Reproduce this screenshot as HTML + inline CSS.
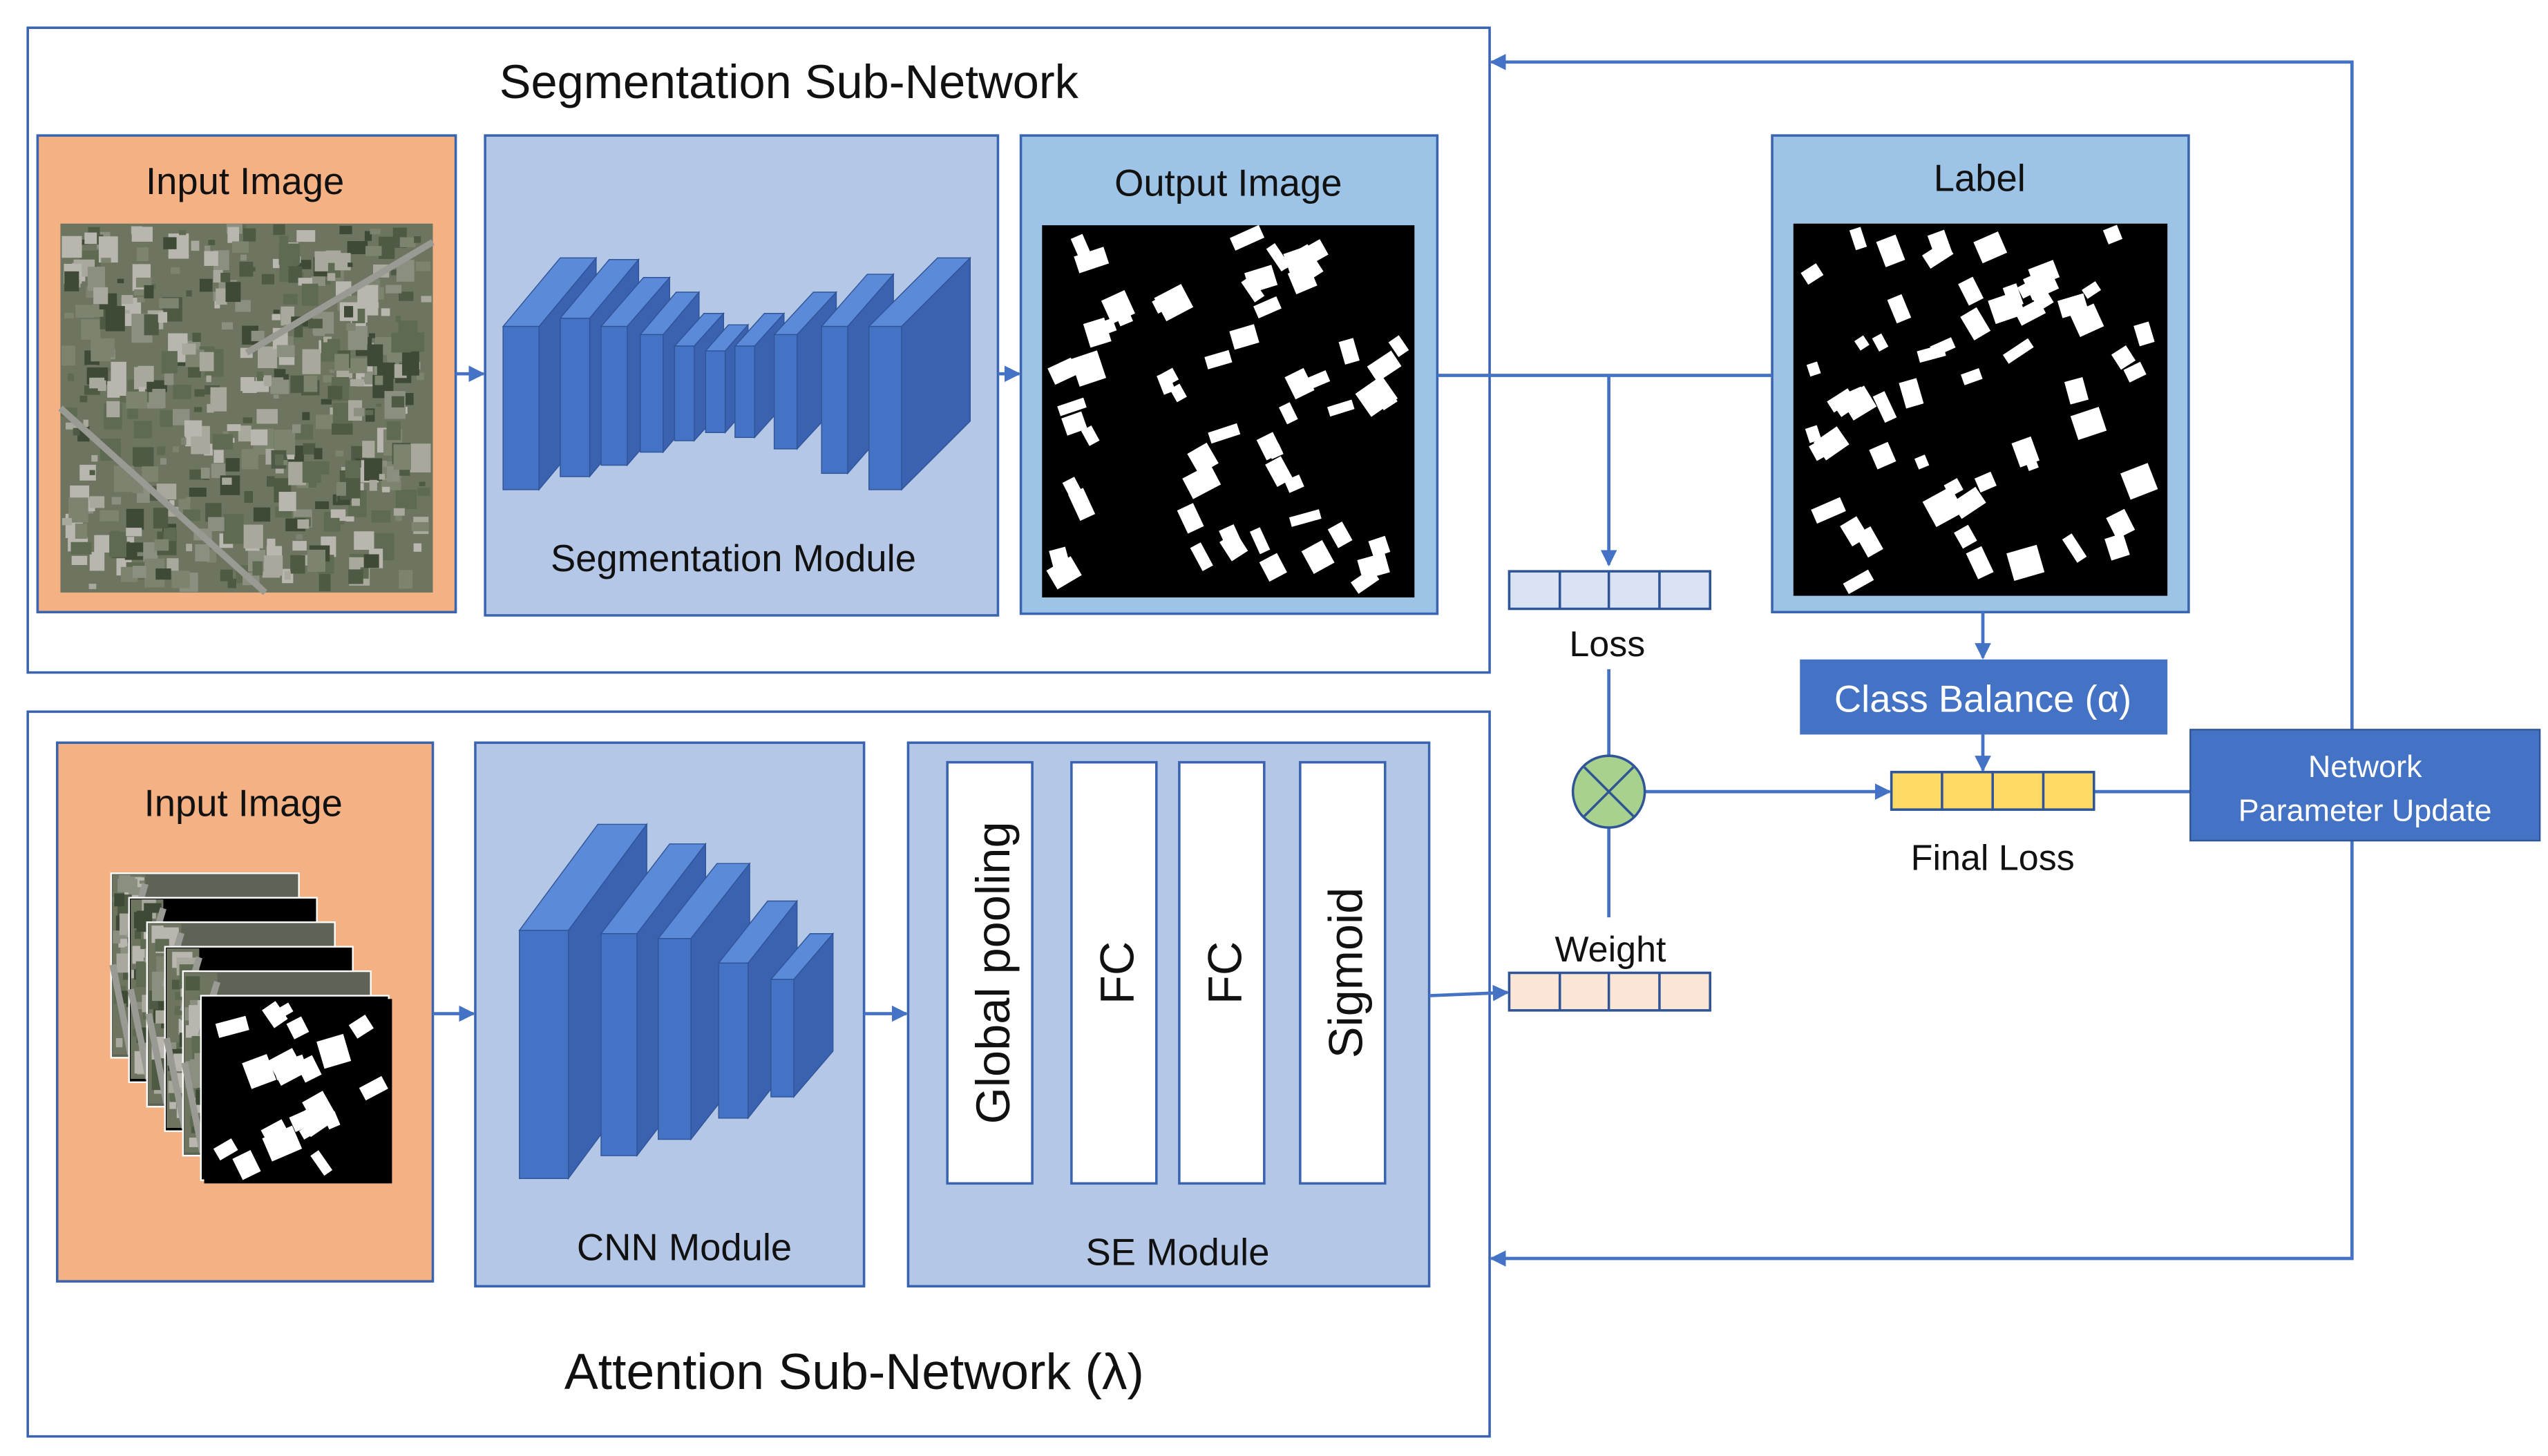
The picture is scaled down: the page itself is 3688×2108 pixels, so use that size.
<!DOCTYPE html>
<html><head><meta charset="utf-8"><style>
html,body{margin:0;padding:0;background:#fff;width:3688px;height:2108px;overflow:hidden}
svg{display:block}
text{font-family:"Liberation Sans",sans-serif;fill:#111}
</style></head><body>
<svg id="s" width="3688" height="2108" viewBox="0 0 1560 892" preserveAspectRatio="none" xmlns="http://www.w3.org/2000/svg">
<defs>
<marker id="a" viewBox="0 0 10 10" refX="9" refY="5" markerWidth="5" markerHeight="5" orient="auto"><path d="M0,0L10,5L0,10z" fill="#4472c4"/></marker>
</defs>
<rect x="0" y="0" width="1560" height="892" fill="#fff"/>
<!-- outer boxes -->
<rect x="17" y="17" width="895" height="395" fill="#fff" stroke="#3a64b0" stroke-width="1.5"/>
<rect x="17" y="436" width="895" height="444" fill="#fff" stroke="#3a64b0" stroke-width="1.5"/>
<text x="483" y="60" font-size="29" text-anchor="middle">Segmentation Sub-Network</text>
<text x="523" y="851" font-size="31" text-anchor="middle">Attention Sub-Network (λ)</text>

<!-- top row boxes -->
<rect x="23" y="83" width="256" height="292" fill="#f4b183" stroke="#3a64b0" stroke-width="1.5"/>
<text x="150" y="119" font-size="23" text-anchor="middle">Input Image</text>
<g id="aer1"></g>
<rect x="297" y="83" width="314" height="294" fill="#b4c7e7" stroke="#3a64b0" stroke-width="1.5"/>
<text x="449" y="350" font-size="23" text-anchor="middle">Segmentation Module</text>
<g id="segblk"></g>
<rect x="625" y="83" width="255" height="293" fill="#9dc3e6" stroke="#3a64b0" stroke-width="1.5"/>
<text x="752" y="120" font-size="23" text-anchor="middle">Output Image</text>
<rect x="638" y="138" width="228" height="228" fill="#000"/>
<g id="mask1"></g>
<rect x="1085" y="83" width="255" height="292" fill="#9dc3e6" stroke="#3a64b0" stroke-width="1.5"/>
<text x="1212" y="117" font-size="23" text-anchor="middle">Label</text>
<rect x="1098" y="137" width="229" height="228" fill="#000"/>
<g id="mask2"></g>

<!-- bottom row boxes -->
<rect x="35" y="455" width="230" height="330" fill="#f4b183" stroke="#3a64b0" stroke-width="1.5"/>
<text x="149" y="500" font-size="23" text-anchor="middle">Input Image</text>
<g id="stack"></g>
<rect x="291" y="455" width="238" height="333" fill="#b4c7e7" stroke="#3a64b0" stroke-width="1.5"/>
<text x="419" y="772" font-size="23" text-anchor="middle">CNN Module</text>
<g id="cnnblk"></g>
<rect x="556" y="455" width="319" height="333" fill="#b4c7e7" stroke="#3a64b0" stroke-width="1.5"/>
<text x="721" y="775" font-size="23" text-anchor="middle">SE Module</text>
<rect x="580" y="467" width="52" height="258" fill="#fff" stroke="#3a64b0" stroke-width="1.5"/>
<rect x="656" y="467" width="52" height="258" fill="#fff" stroke="#3a64b0" stroke-width="1.5"/>
<rect x="722" y="467" width="52" height="258" fill="#fff" stroke="#3a64b0" stroke-width="1.5"/>
<rect x="796" y="467" width="52" height="258" fill="#fff" stroke="#3a64b0" stroke-width="1.5"/>
<text transform="translate(618,596) rotate(-90)" font-size="29" text-anchor="middle">Global pooling</text>
<text transform="translate(694,596) rotate(-90)" font-size="29" text-anchor="middle">FC</text>
<text transform="translate(760,596) rotate(-90)" font-size="29" text-anchor="middle">FC</text>
<text transform="translate(834,596) rotate(-90)" font-size="29" text-anchor="middle">Sigmoid</text>

<!-- connectors -->
<g stroke="#4472c4" stroke-width="2" fill="none">
<line x1="279" y1="229" x2="296" y2="229" marker-end="url(#a)"/>
<line x1="611" y1="229" x2="624" y2="229" marker-end="url(#a)"/>
<line x1="880" y1="230" x2="1085" y2="230"/>
<line x1="985" y1="230" x2="985" y2="346" marker-end="url(#a)"/>
<line x1="985" y1="410" x2="985" y2="463"/>
<line x1="985" y1="507" x2="985" y2="562"/>
<line x1="1007" y1="485" x2="1157" y2="485" marker-end="url(#a)"/>
<line x1="1214" y1="375" x2="1214" y2="403" marker-end="url(#a)"/>
<line x1="1214" y1="450" x2="1214" y2="472" marker-end="url(#a)"/>
<line x1="1282" y1="485" x2="1341" y2="485"/>
<polyline points="1440,447 1440,38 913,38" marker-end="url(#a)"/>
<polyline points="1440,515 1440,771 913,771" marker-end="url(#a)"/>
<line x1="265" y1="621" x2="290" y2="621" marker-end="url(#a)"/>
<line x1="529" y1="621" x2="555" y2="621" marker-end="url(#a)"/>
<line x1="875" y1="610" x2="923" y2="608" marker-end="url(#a)"/>
</g>

<!-- loss bars -->
<g stroke="#2f5597" stroke-width="1.5">
<rect x="924" y="350" width="123" height="23" fill="#dae3f3"/>
<line x1="955" y1="350" x2="955" y2="373"/><line x1="985" y1="350" x2="985" y2="373"/><line x1="1016" y1="350" x2="1016" y2="373"/>
<rect x="924" y="596" width="123" height="23" fill="#fbe5d6"/>
<line x1="955" y1="596" x2="955" y2="619"/><line x1="985" y1="596" x2="985" y2="619"/><line x1="1016" y1="596" x2="1016" y2="619"/>
<rect x="1158" y="473" width="124" height="23" fill="#ffd966"/>
<line x1="1189" y1="473" x2="1189" y2="496"/><line x1="1220" y1="473" x2="1220" y2="496"/><line x1="1251" y1="473" x2="1251" y2="496"/>
<ellipse cx="985" cy="485" rx="22" ry="22" fill="#a9d18e"/>
<line x1="970" y1="470" x2="1000" y2="500"/><line x1="1000" y1="470" x2="970" y2="500"/>
</g>
<text x="984" y="402" font-size="22" text-anchor="middle">Loss</text>
<text x="986" y="589" font-size="22" text-anchor="middle">Weight</text>
<text x="1220" y="533" font-size="22" text-anchor="middle">Final Loss</text>
<rect x="1102" y="404" width="225" height="46" fill="#4472c4"/>
<text x="1214" y="436" font-size="23" text-anchor="middle" style="fill:#fff">Class Balance (α)</text>
<rect x="1341" y="447" width="214" height="68" fill="#4472c4" stroke="#2f5597" stroke-width="1"/>
<text x="1448" y="476" font-size="19" text-anchor="middle" style="fill:#fff">Network</text>
<text x="1448" y="503" font-size="19" text-anchor="middle" style="fill:#fff">Parameter Update</text>
</svg>
<script>
var NS="http://www.w3.org/2000/svg";
function el(p,t,a){var e=document.createElementNS(NS,t);for(var k in a)e.setAttribute(k,a[k]);document.getElementById(p).appendChild(e);return e;}
var seed=7;function r(){seed=(seed*16807)%2147483647;return seed/2147483647;}
function prism(p,x,w,y1,y2,dx,dy){
 el(p,"polygon",{points:[x,y1,x+dx,y1+dy,x+w+dx,y1+dy,x+w,y1].join(" "),fill:"#5b8ad8",stroke:"#2f5597","stroke-width":0.6});
 el(p,"polygon",{points:[x+w,y1,x+w+dx,y1+dy,x+w+dx,y2+dy,x+w,y2].join(" "),fill:"#3a62b0",stroke:"#2f5597","stroke-width":0.6});
 el(p,"rect",{x:x,y:y1,width:w,height:y2-y1,fill:"#4472c4",stroke:"#2f5597","stroke-width":0.6});
}
// seg blocks
var sb=[[308,22,200,300,35,-42],[343,18,195,292,30,-36],[368,16,200,285,26,-30],[392,14,205,277,22,-26],[413,12,212,270,18,-20],[432,12,215,265,14,-16],[450,12,212,268,18,-20],[474,14,205,275,24,-26],[503,16,200,290,28,-32],[532,20,200,300,42,-42]];
sb.forEach(function(b){prism("segblk",b[0],b[1],b[2],b[3],b[4],b[5]);});
var cb=[[318,30,570,722,48,-65],[368,22,572,708,42,-55],[403,20,575,698,36,-46],[440,18,590,685,30,-38],[472,14,600,672,24,-28]];
cb.forEach(function(b){prism("cnnblk",b[0],b[1],b[2],b[3],b[4],b[5]);});
// aerial
function aerial(p,x,y,w,h,n){
 el(p,"rect",{x:x,y:y,width:w,height:h,fill:"#6d7560"});
 for(var i=0;i<n;i++){var c=["#4f5a45","#8a8f80","#a9a89c","#3e4a36","#b8b6ae","#7c8470","#5e6a52"][Math.floor(r()*7)];
  var s=3+r()*10;el(p,"rect",{x:x+r()*(w-s),y:y+r()*(h-s),width:s,height:s*(0.5+r()),fill:c});}
 el(p,"line",{x1:x,y1:y+h*0.5,x2:x+w*0.55,y2:y+h,stroke:"#9a9a95","stroke-width":4});
 el(p,"line",{x1:x+w*0.5,y1:y+h*0.35,x2:x+w,y2:y+h*0.05,stroke:"#9a9a95","stroke-width":4});
}
aerial("aer1",37,137,228,226,500);
function mask(p,x,y,w,h,n){
 for(var i=0;i<n;i++){var sw=6+r()*14,sh=6+r()*12;var cx=x+r()*(w-sw),cy=y+r()*(h-sh);
  el(p,"rect",{x:cx,y:cy,width:sw,height:sh,fill:"#fff",transform:"rotate("+(-35+r()*20)+" "+(cx+sw/2)+" "+(cy+sh/2)+")"});}
}
mask("mask1",640,140,222,222,60);
mask("mask2",1100,139,223,222,60);
// stack
for(var i=0;i<6;i++){var sx=68+i*11,sy=535+i*15;
 el("stack","rect",{x:sx,y:sy,width:115,height:113,fill:i%2?"#000":"#5d6456",stroke:"#fff","stroke-width":1});
 if(i<5)aerial("stack",sx+1,sy+1,20,110,30);}
el("stack","rect",{x:125,y:612,width:115,height:113,fill:"#000"});
mask("stack",127,614,110,108,22);
</script>
</body></html>
